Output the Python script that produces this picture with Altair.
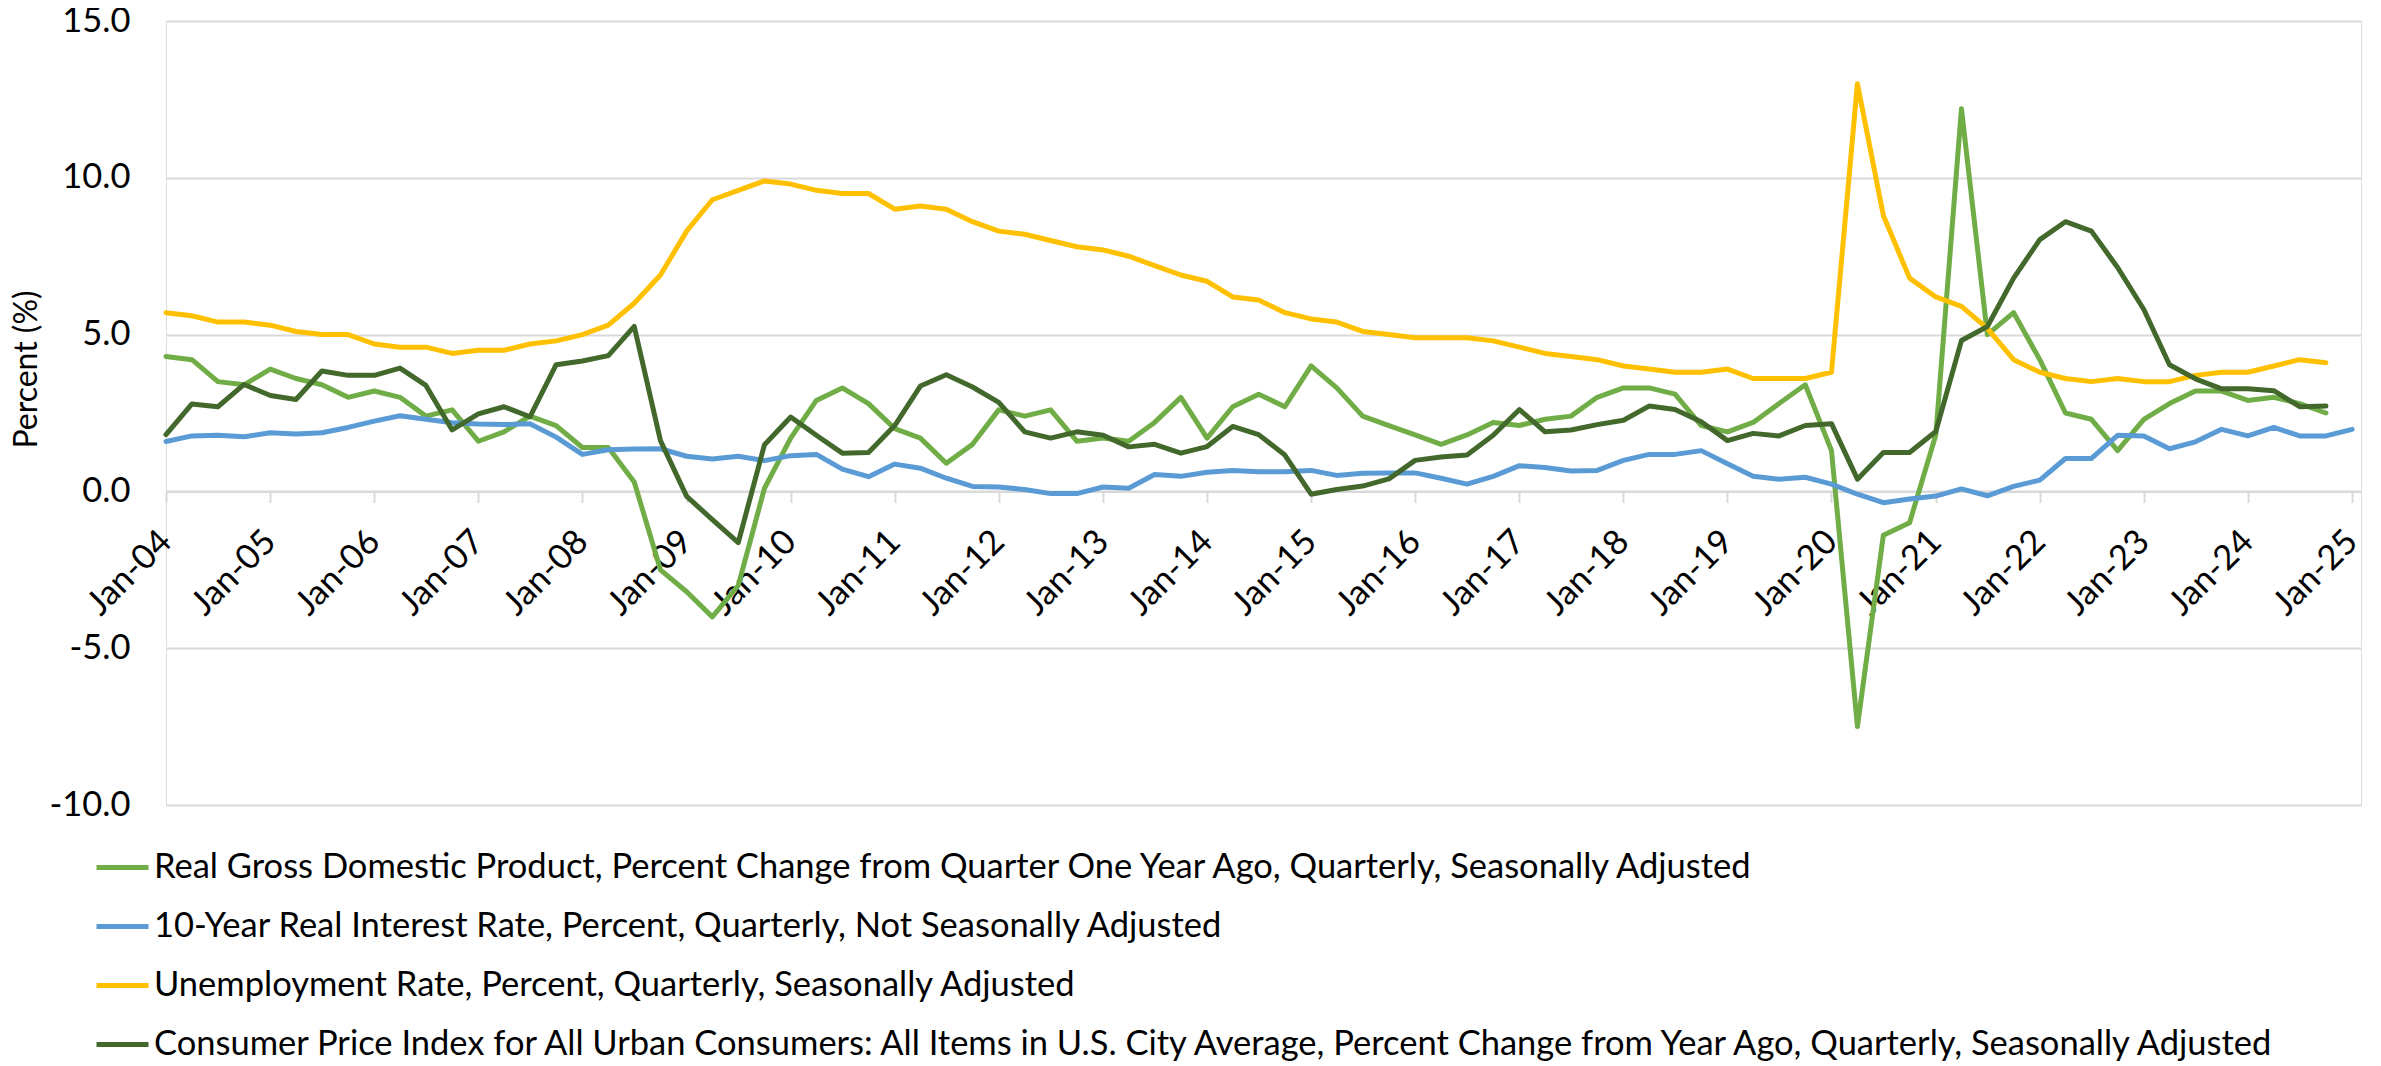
import altair as alt
import pandas as pd

# Series names (legend order)
S_GDP = "Real Gross Domestic Product, Percent Change from Quarter One Year Ago, Quarterly, Seasonally Adjusted"
S_RIR = "10-Year Real Interest Rate, Percent, Quarterly, Not Seasonally Adjusted"
S_UNR = "Unemployment Rate, Percent, Quarterly, Seasonally Adjusted"
S_CPI = "Consumer Price Index for All Urban Consumers: All Items in U.S. City Average, Percent Change from Year Ago, Quarterly, Seasonally Adjusted"

# Quarterly dates 2004Q1 .. 2025Q1
quarters = pd.date_range("2004-01-01", "2025-01-01", freq="QS").strftime("%Y-%m-%d").tolist()

gdp = [4.3, 4.2, 3.5, 3.4,
       3.9, 3.6, 3.4, 3.0,
       3.2, 3.0, 2.4, 2.6,
       1.6, 1.9, 2.4, 2.1,
       1.4, 1.4, 0.3, -2.5,
       -3.2, -4.0, -3.0, 0.1,
       1.7, 2.9, 3.3, 2.8,
       2.0, 1.7, 0.9, 1.5,
       2.6, 2.4, 2.6, 1.6,
       1.7, 1.6, 2.2, 3.0,
       1.7, 2.7, 3.1, 2.7,
       4.0, 3.3, 2.4, 2.1,
       1.8, 1.5, 1.8, 2.2,
       2.1, 2.3, 2.4, 3.0,
       3.3, 3.3, 3.1, 2.1,
       1.9, 2.2, 2.8, 3.4,
       1.3, -7.5, -1.4, -1.0,
       1.8, 12.2, 5.0, 5.7,
       4.2, 2.5, 2.3, 1.3,
       2.3, 2.8, 3.2, 3.2,
       2.9, 3.0, 2.8, 2.5]

real_rate = [1.59, 1.77, 1.79, 1.74,
             1.87, 1.83, 1.87, 2.04,
             2.24, 2.41, 2.30, 2.19,
             2.15, 2.13, 2.16, 1.73,
             1.18, 1.33, 1.35, 1.36,
             1.12, 1.03, 1.12, 0.98,
             1.14, 1.18, 0.71, 0.47,
             0.87, 0.74, 0.42, 0.16,
             0.14, 0.06, -0.07, -0.07,
             0.14, 0.10, 0.54, 0.48,
             0.61, 0.67, 0.63, 0.63,
             0.67, 0.51, 0.58, 0.59,
             0.59, 0.42, 0.23, 0.48,
             0.82, 0.76, 0.65, 0.67,
             0.99, 1.18, 1.18, 1.30,
             0.88, 0.48, 0.39, 0.45,
             0.23, -0.09, -0.36, -0.24,
             -0.15, 0.08, -0.14, 0.16,
             0.36, 1.05, 1.05, 1.79,
             1.77, 1.36, 1.58, 1.98,
             1.77, 2.04, 1.77, 1.77,
             1.98]

unrate = [5.7, 5.6, 5.4, 5.4,
          5.3, 5.1, 5.0, 5.0,
          4.7, 4.6, 4.6, 4.4,
          4.5, 4.5, 4.7, 4.8,
          5.0, 5.3, 6.0, 6.9,
          8.3, 9.3, 9.6, 9.9,
          9.8, 9.6, 9.5, 9.5,
          9.0, 9.1, 9.0, 8.6,
          8.3, 8.2, 8.0, 7.8,
          7.7, 7.5, 7.2, 6.9,
          6.7, 6.2, 6.1, 5.7,
          5.5, 5.4, 5.1, 5.0,
          4.9, 4.9, 4.9, 4.8,
          4.6, 4.4, 4.3, 4.2,
          4.0, 3.9, 3.8, 3.8,
          3.9, 3.6, 3.6, 3.6,
          3.8, 13.0, 8.8, 6.8,
          6.2, 5.9, 5.2, 4.2,
          3.8, 3.6, 3.5, 3.6,
          3.5, 3.5, 3.7, 3.8,
          3.8, 4.0, 4.2, 4.1]

cpi = [1.81, 2.79, 2.70, 3.41,
       3.06, 2.93, 3.84, 3.70,
       3.70, 3.93, 3.38, 1.96,
       2.47, 2.70, 2.38, 4.04,
       4.16, 4.33, 5.26, 1.62,
       -0.16, -0.90, -1.63, 1.49,
       2.37, 1.79, 1.22, 1.24,
       2.10, 3.36, 3.72, 3.33,
       2.84, 1.90, 1.70, 1.90,
       1.79, 1.42, 1.50, 1.22,
       1.43, 2.07, 1.81, 1.16,
       -0.09, 0.06, 0.17, 0.40,
       0.99, 1.10, 1.16, 1.79,
       2.61, 1.90, 1.96, 2.13,
       2.27, 2.72, 2.61, 2.22,
       1.62, 1.85, 1.77, 2.10,
       2.16, 0.39, 1.24, 1.24,
       1.91, 4.81, 5.26, 6.80,
       8.03, 8.60, 8.30, 7.14,
       5.80, 4.04, 3.59, 3.27,
       3.27, 3.21, 2.70, 2.72]

series_names = [S_GDP, S_RIR, S_UNR, S_CPI]
series_values = [gdp, real_rate, unrate, cpi]
series_colors = ["#70AD47", "#5B9BD5", "#FFC000", "#43682B"]

rows = []
for name, vals in zip(series_names, series_values):
    for d, v in zip(quarters, vals):
        rows.append({"date": d, "value": v, "series": name})
df = pd.DataFrame(rows)

W, H = 2195, 784
FONT = "Lato"
FS = 34.5

year_ticks = [alt.DateTime(year=y, month=1, date=1, utc=True) for y in range(2004, 2026)]

chart = alt.Chart(df).mark_line(strokeWidth=5, strokeCap="round", strokeJoin="round").encode(
    x=alt.X("date:T",
            scale=alt.Scale(type="utc",
                            domain=[alt.DateTime(year=2004, month=1, date=1, utc=True),
                                    alt.DateTime(year=2025, month=2, date=1, utc=True)]),
            axis=alt.Axis(values=year_ticks, format="%b-%y", title=None,
                          labelAngle=315, labelAlign="right", labelBaseline="middle",
                          labelPadding=34, tickSize=11, tickColor="#D9D9D9", tickWidth=2,
                          domainColor="#D9D9D9", domainWidth=2, grid=False,
                          offset=-(H * 10 / 25), labelFontSize=FS, labelFont=FONT,
                          labelColor="#000000", labelOverlap=False)),
    y=alt.Y("value:Q",
            scale=alt.Scale(domain=[-10, 15], nice=False),
            axis=alt.Axis(values=[-10, -5, 0, 5, 10, 15],
                          labelExpr="datum.value < 0 ? '-' + format(-datum.value, '.1f') : format(datum.value, '.1f')",
                          title="Percent (%)", titleFont=FONT, titleFontSize=32,
                          titleFontWeight="normal", titleColor="#000000",
                          titleX=-140, titleY=348, titleAngle=270,
                          titleAlign="center", titleBaseline="middle",
                          labelFontSize=FS, labelFont=FONT, labelColor="#000000",
                          labelPadding=36, ticks=False, domain=False,
                          grid=True, gridColor="#D9D9D9", gridWidth=2)),
    color=alt.Color("series:N",
                    scale=alt.Scale(domain=series_names, range=series_colors),
                    sort=series_names,
                    legend=alt.Legend(title=None, orient="none", legendX=-72, legendY=818,
                                      symbolType="stroke", symbolStrokeWidth=5,
                                      symbolSize=2704, labelFontSize=FS, labelFont=FONT,
                                      labelColor="#000000", labelLimit=2400,
                                      rowPadding=14, labelOffset=3, padding=0)),
    order=alt.Order("series_order:Q"),
).transform_calculate(
    series_order=f"indexof({series_names!r}, datum.series)"
).properties(
    width=W, height=H,
    autosize=alt.AutoSizeParams(type="none"),
    padding={"left": 158, "top": 13, "right": 10, "bottom": 261},
).configure_view(stroke=None).configure(background="white")

chart.save("out.html", embed_options={"renderer": "svg", "actions": False})
